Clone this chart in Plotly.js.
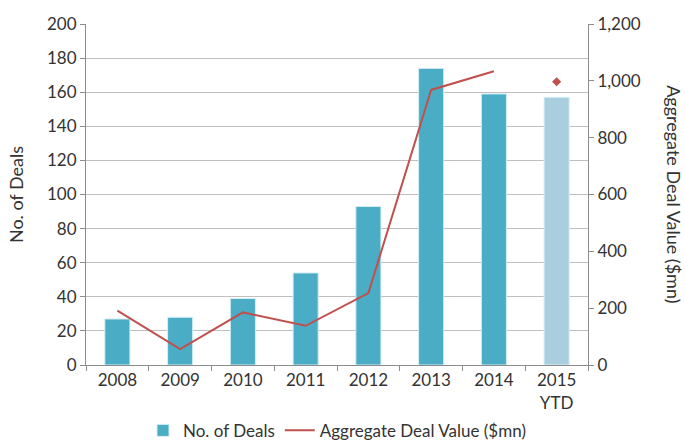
<!DOCTYPE html>
<html><head><meta charset="utf-8">
<script src="https://cdn.plot.ly/plotly-3.0.1.min.js"></script>
<style>html,body{margin:0;padding:0;background:#fff}#chart{width:685px;height:443px}</style>
</head><body><div id="chart"></div>
<script>
const years = ["2008","2009","2010","2011","2012","2013","2014","2015<br>YTD"];
const deals = [27, 28, 39, 54, 93, 174, 159, 157];
const dealValue = [191, 56, 185, 138, 253, 968, 1034, null];
const ytdValue = [null, null, null, null, null, null, null, 997];
const barColors = ["#4BACC6","#4BACC6","#4BACC6","#4BACC6","#4BACC6","#4BACC6","#4BACC6","#A9CFDE"];

const font = {family: "Lato, 'Open Sans', sans-serif", size: 17, color: "#333333"};

const traces = [
  {type: "bar", x: years, y: deals, name: "No. of Deals",
   marker: {color: barColors, line: {color: "#D6EEF4", width: 1}}, width: 0.4},
  {type: "scatter", mode: "lines", x: years, y: dealValue, yaxis: "y2",
   name: "Aggregate Deal Value ($mn)", line: {color: "#C0504D", width: 2}},
  {type: "scatter", mode: "markers", x: years, y: ytdValue, yaxis: "y2",
   showlegend: false, marker: {symbol: "diamond", size: 7, color: "#C0504D"}}
];

const layout = {
  width: 685, height: 443,
  margin: {l: 86, r: 97, t: 24, b: 78, autoexpand: false},
  font: font,
  paper_bgcolor: "#fff", plot_bgcolor: "#fff",
  xaxis: {type: "category", showline: true, linecolor: "#8c8c8c", linewidth: 1,
          ticks: "outside", ticklen: 5, tickcolor: "#8c8c8c", tickson: "boundaries",
          tickfont: {size: 17, color: "#333333"}, showgrid: false},
  yaxis: {range: [0, 200], dtick: 20, showline: true, linecolor: "#8c8c8c",
          ticks: "outside", ticklen: 5, tickcolor: "#8c8c8c",
          gridcolor: "#BFBFBF", gridwidth: 1, zeroline: false,
          tickfont: {size: 17, color: "#333333"},
          title: {text: "No. of Deals", font: {size: 18, color: "#333333"}, standoff: 18}},
  yaxis2: {range: [0, 1200], dtick: 200, overlaying: "y", side: "right",
           showline: true, linecolor: "#8c8c8c", ticks: "outside", ticklen: 5,
           tickcolor: "#8c8c8c", showgrid: false, zeroline: false,
           tickformat: ",d", tickfont: {size: 17, color: "#333333"}},
  legend: {orientation: "h", x: 0.5, xanchor: "center", y: -0.193, yanchor: "middle",
           font: {size: 17, color: "#333333"}, traceorder: "normal", itemwidth: 30},
  annotations: [
    {text: "Aggregate Deal Value ($mn)", textangle: 90, xref: "paper", yref: "paper",
     x: 1.172, y: 0.5, xanchor: "center", yanchor: "middle", showarrow: false,
     font: {size: 18, color: "#333333"}}
  ]
};

Plotly.newPlot("chart", traces, layout, {displayModeBar: false, staticPlot: true});
</script></body></html>
